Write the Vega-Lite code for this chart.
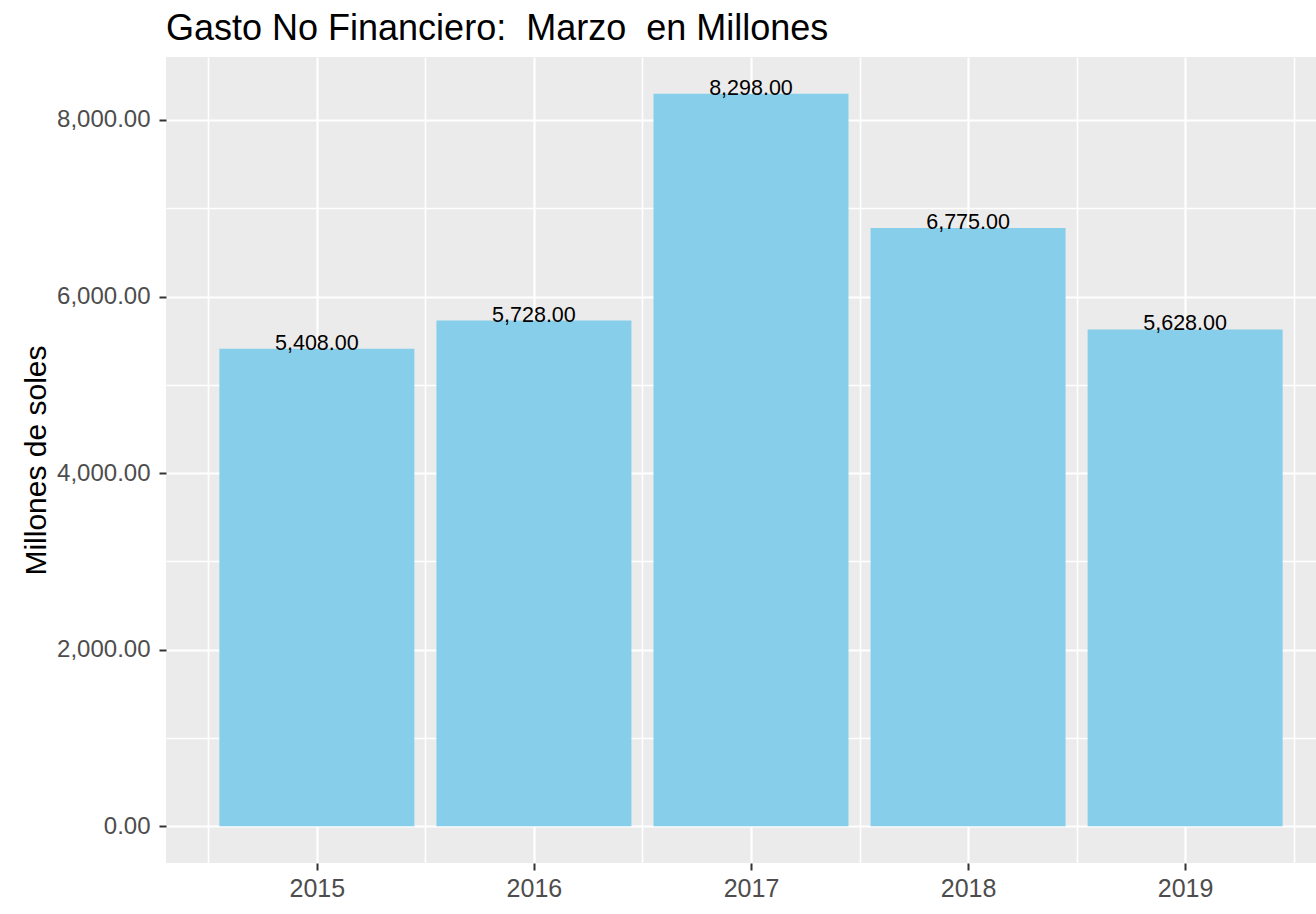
{
  "$schema": "https://vega.github.io/schema/vega-lite/v6.json",
  "width": 1150,
  "height": 806,
  "autosize": {"type": "none"},
  "padding": {"left": 166, "top": 57, "right": 0, "bottom": 51},
  "background": "white",
  "config": {"view": {"fill": "#EBEBEB", "stroke": null}, "font": "Liberation Sans"},
  "title": {
    "text": "Gasto No Financiero:\u00a0 Marzo\u00a0 en Millones",
    "anchor": "start",
    "frame": "group",
    "fontSize": 36,
    "fontWeight": "normal",
    "color": "black",
    "baseline": "bottom",
    "offset": 11,
    "dy": 38,
    "font": "Liberation Sans"
  },
  "data": {
    "values": [
      {"anio": 2015, "gasto": 5408},
      {"anio": 2016, "gasto": 5728},
      {"anio": 2017, "gasto": 8298},
      {"anio": 2018, "gasto": 6775},
      {"anio": 2019, "gasto": 5628}
    ]
  },
  "layer": [
    {
      "mark": {"type": "bar", "width": 195, "color": "#87CEEB", "orient": "vertical"},
      "encoding": {
        "x": {
          "field": "anio",
          "type": "quantitative",
          "scale": {"domain": [2014.305, 2019.603], "nice": false, "zero": false, "padding": 0},
          "axis": {
            "orient": "bottom",
            "values": [2015, 2016, 2017, 2018, 2019],
            "format": "d",
            "title": null,
            "domain": false,
            "grid": true,
            "gridColor": "white",
            "gridWidth": 2.2,
            "ticks": true,
            "tickColor": "#333333",
            "tickSize": 7,
            "tickWidth": 2,
            "labelFontSize": 25,
            "labelColor": "#4D4D4D",
            "labelPadding": 6,
            "labelFlush": false,
            "labelOverlap": false
          }
        },
        "y": {
          "field": "gasto",
          "type": "quantitative",
          "scale": {"domain": [-414.9, 8712.9], "nice": false, "zero": false, "padding": 0},
          "axis": {
            "orient": "left",
            "values": [0, 2000, 4000, 6000, 8000],
            "format": ",.2f",
            "domain": false,
            "grid": true,
            "gridColor": "white",
            "gridWidth": 2.2,
            "tickColor": "#333333",
            "tickSize": 7,
            "tickWidth": 2,
            "labelFontSize": 24,
            "labelColor": "#4D4D4D",
            "labelPadding": 9,
            "labelFlush": false,
            "labelOverlap": false,
            "title": "Millones de soles",
            "titleFontSize": 30,
            "titleFontWeight": "normal",
            "titleColor": "black",
            "titleAngle": -90,
            "titleX": -121,
            "titleY": 403,
            "titleAlign": "center",
            "titleBaseline": "alphabetic"
          }
        },
        "y2": {"datum": 0}
      }
    },
    {
      "mark": {"type": "text", "baseline": "alphabetic", "align": "center", "dy": 1, "fontSize": 21.5, "color": "black"},
      "encoding": {
        "x": {
          "field": "anio",
          "type": "quantitative",
          "axis": {
            "orient": "top",
            "values": [2014.5, 2015.5, 2016.5, 2017.5, 2018.5, 2019.5],
            "title": null,
            "domain": false,
            "labels": false,
            "ticks": false,
            "grid": true,
            "gridColor": "white",
            "gridWidth": 1.6
          }
        },
        "y": {
          "field": "gasto",
          "type": "quantitative",
          "axis": {
            "orient": "right",
            "values": [1000, 3000, 5000, 7000],
            "title": null,
            "domain": false,
            "labels": false,
            "ticks": false,
            "grid": true,
            "gridColor": "white",
            "gridWidth": 1.6
          }
        },
        "text": {"field": "gasto", "type": "quantitative", "format": ",.2f"}
      }
    }
  ],
  "resolve": {"axis": {"x": "independent", "y": "independent"}}
}
